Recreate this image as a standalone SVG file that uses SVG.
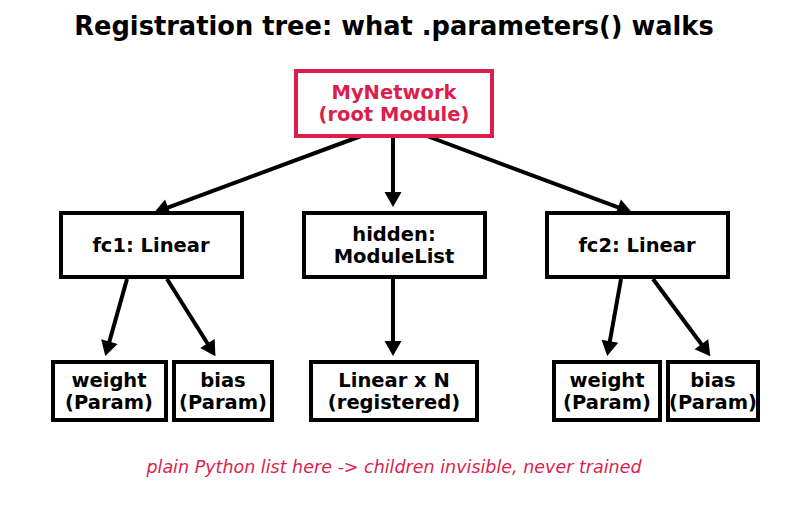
<svg xmlns="http://www.w3.org/2000/svg" width="787" height="512" viewBox="0 0 787 512">
<style>
.box{fill:#fff;stroke:#000;stroke-width:4}
.root{fill:#fff;stroke:#DC1E4B;stroke-width:4}
.lbl{font-family:"DejaVu Sans",sans-serif;font-weight:bold;font-size:19.5px;text-anchor:middle;fill:#000}
.rlbl{fill:#DC1E4B}
.title{font-family:"DejaVu Sans",sans-serif;font-weight:bold;font-size:25.7px;text-anchor:middle;fill:#000}
.foot{font-family:"DejaVu Sans",sans-serif;font-style:italic;font-size:17.5px;text-anchor:middle;fill:#DC1E4B}
.edge{stroke:#000;stroke-width:4;fill:none;marker-end:url(#ah)}
</style>
<defs>
<marker id="ah" markerUnits="userSpaceOnUse" viewBox="0 -9 16 18" markerWidth="16" markerHeight="18" refX="1" refY="0" orient="auto" overflow="visible">
<path d="M0,-8.5 L15,0 L0,8.5 Z" fill="#000"/>
</marker>
</defs>
<rect width="787" height="512" fill="#fff"/>
<text class="title" x="394" y="35">Registration tree: what .parameters() walks</text>
<g id="connectors">
<line class="edge" x1="361" y1="136" x2="167.1" y2="207.8"/>
<line class="edge" x1="393" y1="136" x2="393" y2="193"/>
<line class="edge" x1="427" y1="136" x2="618.9" y2="207.7"/>
<line class="edge" x1="127" y1="279" x2="109.1" y2="342.6"/>
<line class="edge" x1="167" y1="279" x2="208" y2="344.3"/>
<line class="edge" x1="393" y1="279" x2="393" y2="342"/>
<line class="edge" x1="621" y1="279" x2="609.7" y2="342.2"/>
<line class="edge" x1="653" y1="279" x2="702" y2="345"/>
</g>
<g id="root">
<rect class="root" x="296" y="71" width="196" height="65"/>
<text class="lbl rlbl" x="394" y="99">MyNetwork</text>
<text class="lbl rlbl" x="394" y="121">(root Module)</text>
</g>
<g id="fc1">
<rect class="box" x="61" y="213" width="181" height="64"/>
<text class="lbl" x="151" y="252">fc1: Linear</text>
</g>
<g id="hidden">
<rect class="box" x="304" y="213" width="181" height="64"/>
<text class="lbl" x="394" y="241">hidden:</text>
<text class="lbl" x="394" y="263">ModuleList</text>
</g>
<g id="fc2">
<rect class="box" x="547" y="213" width="181" height="64"/>
<text class="lbl" x="637" y="252">fc2: Linear</text>
</g>
<g id="weight1">
<rect class="box" x="53" y="362" width="113" height="58"/>
<text class="lbl" x="109" y="387">weight</text>
<text class="lbl" x="109" y="409">(Param)</text>
</g>
<g id="bias1">
<rect class="box" x="174" y="362" width="98" height="58"/>
<text class="lbl" x="223" y="387">bias</text>
<text class="lbl" x="223" y="409">(Param)</text>
</g>
<g id="linearN">
<rect class="box" x="311" y="362" width="166" height="58"/>
<text class="lbl" x="394" y="387">Linear x N</text>
<text class="lbl" x="394" y="409">(registered)</text>
</g>
<g id="weight2">
<rect class="box" x="554" y="362" width="106" height="58"/>
<text class="lbl" x="607" y="387">weight</text>
<text class="lbl" x="607" y="409">(Param)</text>
</g>
<g id="bias2">
<rect class="box" x="668" y="362" width="90" height="58"/>
<text class="lbl" x="713" y="387">bias</text>
<text class="lbl" x="713" y="409">(Param)</text>
</g>
<text class="foot" x="394" y="473">plain Python list here -&gt; children invisible, never trained</text>
</svg>
